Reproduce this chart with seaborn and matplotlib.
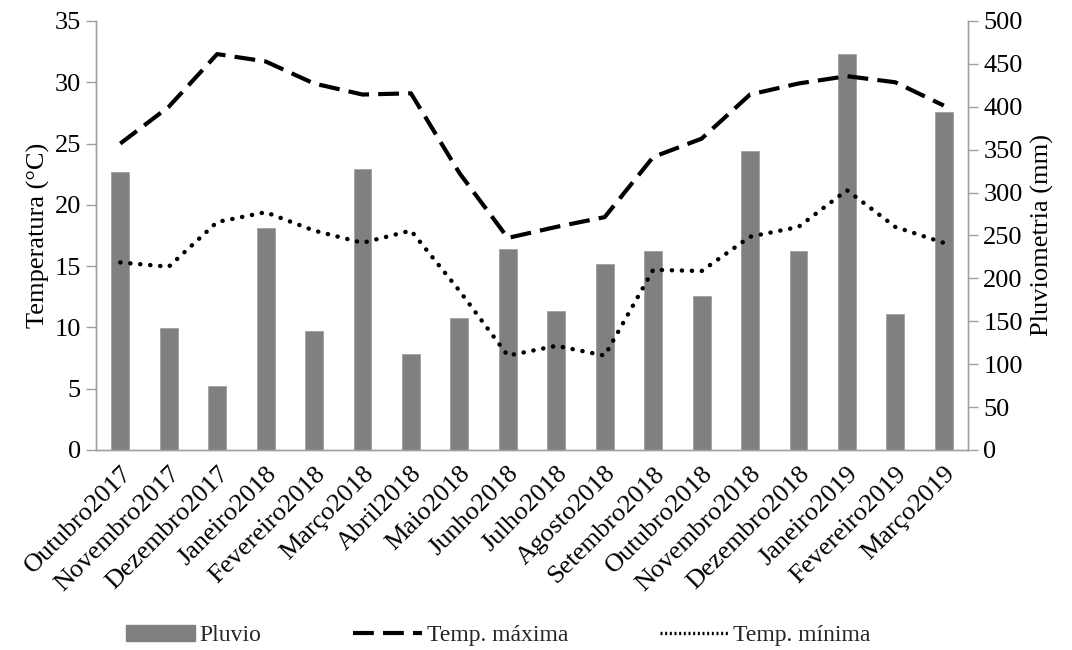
import numpy as np
import pandas as pd
import matplotlib
matplotlib.use("Agg")
import matplotlib.pyplot as plt
import seaborn as sns
from matplotlib.patches import Patch
from matplotlib.lines import Line2D

months = ["Outubro2017", "Novembro2017", "Dezembro2017", "Janeiro2018", "Fevereiro2018",
          "Março2018", "Abril2018", "Maio2018", "Junho2018", "Julho2018", "Agosto2018",
          "Setembro2018", "Outubro2018", "Novembro2018", "Dezembro2018", "Janeiro2019",
          "Fevereiro2019", "Março2019"]
pluvio = [324, 142, 75, 259, 139, 327, 112, 154, 234, 162, 217, 232, 179, 349, 232, 462, 159, 394]
temp_max = [25.0, 28.0, 32.3, 31.7, 29.9, 29.0, 29.1, 22.6, 17.3, 18.2, 19.0, 23.9, 25.4,
            29.0, 29.9, 30.5, 30.0, 28.1]
temp_min = [15.3, 14.95, 18.6, 19.4, 17.9, 16.9, 17.9, 13.0, 7.7, 8.5, 7.7, 14.7, 14.6,
            17.4, 18.2, 21.2, 18.2, 16.9]
left_ticks = [0, 5, 10, 15, 20, 25, 30, 35]
right_ticks = [0, 50, 100, 150, 200, 250, 300, 350, 400, 450, 500]

sns.set_style("white")
plt.rcParams["font.family"] = ["Liberation Serif", "DejaVu Serif"]
FS = 19

fig = plt.figure(figsize=(10.72, 6.5), dpi=100)
ax = fig.add_axes([0.0896, 0.3077, 0.8134, 0.66])
ax2 = ax.twinx()

pos = np.arange(len(months))
df = pd.DataFrame({"pos": pos, "month": months, "pluvio": pluvio,
                   "tmax": temp_max, "tmin": temp_min})

sns.barplot(data=df, x="pos", y="pluvio", ax=ax2, color="#808080", saturation=1,
            width=0.37, native_scale=True, edgecolor="#a0a0a0", linewidth=0.6)
sns.lineplot(data=df, x="pos", y="tmax", ax=ax, color="black", lw=3,
             linestyle=(0, (5, 2.2)))
sns.lineplot(data=df, x="pos", y="tmin", ax=ax, color="black", lw=3.2,
             linestyle=(0, (0.05, 2.2)))
ax.get_lines()[0].set_dash_capstyle("butt")
ax.get_lines()[1].set_dash_capstyle("round")

ax.set_zorder(ax2.get_zorder() + 1)
ax.patch.set_visible(False)

ax.set_xlim(-0.5, len(months) - 0.5)
ax2.set_xlim(-0.5, len(months) - 0.5)
ax.set_ylim(0, 35)
ax2.set_ylim(0, 500)
ax.set_yticks(left_ticks)
ax2.set_yticks(right_ticks)
ax.set_xticks(pos)
ax.set_xticklabels(months, rotation=45, ha="right", rotation_mode="anchor", fontsize=FS)
ax.tick_params(axis="x", length=0, pad=9, colors="black")
ax.tick_params(axis="y", labelsize=FS, length=7, width=1, color="#a0a0a0",
               labelcolor="black", left=True, pad=4)
ax2.tick_params(axis="y", labelsize=FS, length=7, width=1, color="#a0a0a0",
                labelcolor="black", right=True, pad=4)
ax.set_xlabel("")
ax2.set_xlabel("")
ax.set_ylabel("Temperatura (°C)", fontsize=FS, labelpad=3, color="black")
ax2.set_ylabel("Pluviometria (mm)", fontsize=FS, labelpad=6, color="black")

for a in (ax, ax2):
    a.spines["top"].set_visible(False)
    for s in ("left", "right", "bottom"):
        a.spines[s].set_color("#a0a0a0")
        a.spines[s].set_linewidth(1)
    a.grid(False)

handles = [Patch(facecolor="#808080", edgecolor="#808080"),
           Line2D([], [], color="black", lw=3, linestyle=(0, (5, 2.2))),
           Line2D([], [], color="black", lw=2.4, linestyle=(0, (0.6, 0.8)))]
fig.legend(handles, ["Pluvio", "Temp. máxima", "Temp. mínima"], loc="lower center",
           bbox_to_anchor=(0.465, -0.027), ncol=3, frameon=False, fontsize=17,
           handlelength=2.9, handletextpad=0.2, columnspacing=3.9)

fig.savefig("out.png", dpi=100)
